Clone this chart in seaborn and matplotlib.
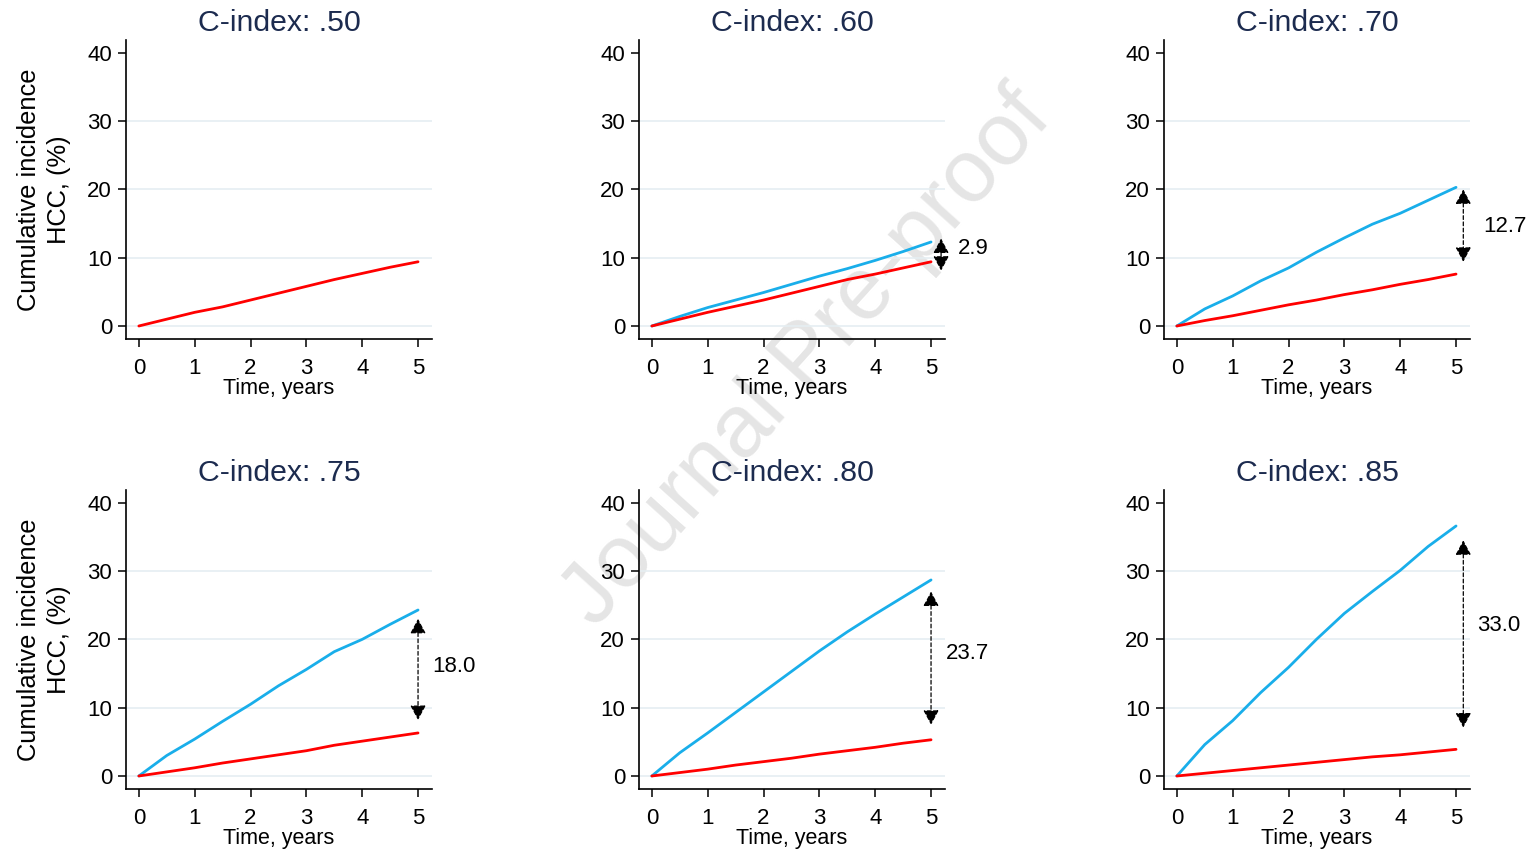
import pandas as pd
import matplotlib.pyplot as plt
import seaborn as sns

# --- Data ---
time_years = [0, 0.5, 1, 1.5, 2, 2.5, 3, 3.5, 4, 4.5, 5]

c_index = ['.50', '.60', '.70', '.75', '.80', '.85']

red_curves = [
    [0, 1.0, 2.0, 2.8, 3.8, 4.8, 5.8, 6.8, 7.7, 8.6, 9.4],
    [0, 1.0, 2.0, 2.9, 3.8, 4.8, 5.8, 6.8, 7.6, 8.5, 9.4],
    [0, 0.8, 1.5, 2.3, 3.1, 3.8, 4.6, 5.3, 6.1, 6.8, 7.6],
    [0, 0.6, 1.2, 1.9, 2.5, 3.1, 3.7, 4.5, 5.1, 5.7, 6.3],
    [0, 0.5, 1.0, 1.6, 2.1, 2.6, 3.2, 3.7, 4.2, 4.8, 5.3],
    [0, 0.4, 0.8, 1.2, 1.6, 2.0, 2.4, 2.8, 3.1, 3.5, 3.9],
]
blue_curves = [
    None,
    [0, 1.4, 2.7, 3.8, 4.9, 6.1, 7.3, 8.4, 9.6, 10.9, 12.3],
    [0, 2.5, 4.4, 6.6, 8.5, 10.8, 12.9, 14.9, 16.5, 18.4, 20.3],
    [0, 3.0, 5.4, 8.0, 10.5, 13.2, 15.6, 18.2, 20.0, 22.2, 24.3],
    [0, 3.4, 6.3, 9.3, 12.3, 15.3, 18.3, 21.1, 23.7, 26.2, 28.7],
    [0, 4.6, 8.1, 12.2, 15.9, 20.0, 23.8, 27.0, 30.1, 33.6, 36.6],
]

diff_labels = [None, '2.9', '12.7', '18.0', '23.7', '33.0']
arrow_x = [None, 5.18, 5.13, 5.0, 5.0, 5.13]
arrow_top = [None, 12.8, 20.0, 23.0, 27.0, 34.5]
arrow_bottom = [None, 8.1, 9.4, 8.2, 7.5, 7.1]
label_x = [None, 5.48, 5.48, 5.25, 5.27, 5.37]
label_y = [None, 11.3, 14.5, 16.1, 18.0, 22.0]

# --- Style ---
BLUE = '#19aeea'
RED = '#ff0000'
TITLE_COLOR = '#1c2b4f'
GRID_COLOR = '#e5eef2'

sns.set_theme(style='white')
plt.rcParams['font.family'] = ['Liberation Sans', 'DejaVu Sans']
for key in ['text.color', 'axes.labelcolor', 'xtick.color', 'ytick.color']:
    plt.rcParams[key] = 'black'

rows = []
for i, ci in enumerate(c_index):
    if blue_curves[i] is not None:
        for t, v in zip(time_years, blue_curves[i]):
            rows.append({'panel': ci, 'group': 'model', 'time': t, 'cuminc': v})
    for t, v in zip(time_years, red_curves[i]):
        rows.append({'panel': ci, 'group': 'reference', 'time': t, 'cuminc': v})
df = pd.DataFrame(rows)

fig = plt.figure(figsize=(15.26, 8.5), dpi=100)

col_left = [126, 639, 1164]
row_bottom = [0.6012, 0.0718]
ax_w = 306 / 1526
ax_h = 0.352

for i, ci in enumerate(c_index):
    r, c = divmod(i, 3)
    ax = fig.add_axes([col_left[c] / 1526, row_bottom[r], ax_w, ax_h])
    ax.set_facecolor('none')

    for yv in [0, 10, 20, 30]:
        ax.axhline(yv, color=GRID_COLOR, lw=1.2, zorder=0)

    sub = df[df['panel'] == ci]
    sns.lineplot(data=sub, x='time', y='cuminc', hue='group',
                 palette={'model': BLUE, 'reference': RED},
                 hue_order=['model', 'reference'],
                 lw=2.0, ax=ax, legend=False, zorder=3)

    if diff_labels[i] is not None:
        ax.annotate('', xy=(arrow_x[i], arrow_bottom[i]),
                    xytext=(arrow_x[i], arrow_top[i]),
                    arrowprops=dict(arrowstyle='<|-|>,head_length=0.45,head_width=0.24',
                                    mutation_scale=20, color='black', lw=0.9,
                                    linestyle=(0, (3, 2)), shrinkA=0, shrinkB=0),
                    annotation_clip=False)
        ax.text(label_x[i], label_y[i], diff_labels[i], fontsize=16,
                ha='left', va='center', clip_on=False)

    ax.set_xlim(-0.23, 5.25)
    ax.set_ylim(-1.9, 41.9)
    ax.set_xticks(range(6))
    ax.set_yticks([0, 10, 20, 30, 40])
    ax.tick_params(axis='both', direction='out', length=6, width=1.1,
                   labelsize=16, color='black', bottom=True, left=True)
    ax.tick_params(axis='x', pad=8)
    ax.tick_params(axis='y', pad=4)
    for side in ['top', 'right']:
        ax.spines[side].set_visible(False)
    for side in ['left', 'bottom']:
        ax.spines[side].set_color('black')
        ax.spines[side].set_linewidth(1.2)

    ax.set_title(f'C-index: {ci}', fontsize=21.8, color=TITLE_COLOR, pad=6)
    ax.set_xlabel('Time, years', fontsize=15.5, labelpad=-1)
    if c == 0:
        ax.set_ylabel('Cumulative incidence\nHCC, (%)', fontsize=18.4,
                      labelpad=12, linespacing=1.3)
    else:
        ax.set_ylabel('')

fig.text(0.529, 0.578, 'Journal Pre-proof', rotation=48, fontsize=64,
         color='#e5e5e5', ha='center', va='center', zorder=-1)

plt.savefig('out.png', dpi=100)
